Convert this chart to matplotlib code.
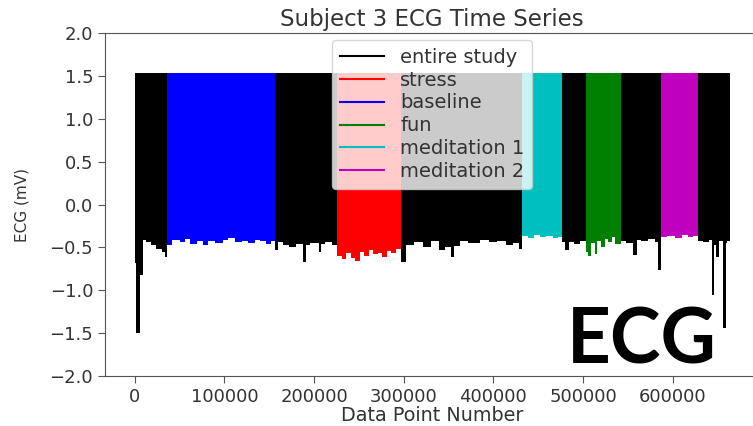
import matplotlib
matplotlib.use("Agg")
import matplotlib.pyplot as plt
from matplotlib.lines import Line2D
import numpy as np

# ---- data (lower envelope of the dense ECG trace, upper clip level) ----
top_level = 1.53

entire_x = [0, 2000, 5500, 9500, 13000, 18000, 24000, 31000, 33500, 36000,
            157000, 160000, 165000, 172000, 180000, 188000, 191500, 196000, 205000,
            208000, 212000, 220000, 226000,
            296500, 302000, 311000, 322000, 330000, 339000, 346000, 353000, 356000,
            363000, 372000, 385000, 395000, 404000, 414000, 422000, 428000, 432000,
            476000, 480000, 484000, 490000, 496000, 503000,
            542000, 548000, 556000, 560000, 564000, 572000, 580000, 583500, 587000,
            628000, 634000, 640000, 643200, 645700, 648700, 651000, 656000, 659000,
            660200, 663500]
entire_low = [-0.68, -1.50, -0.82, -0.41, -0.44, -0.47, -0.52, -0.55, -0.61, -0.30,
              -0.53, -0.44, -0.47, -0.49, -0.46, -0.67, -0.47, -0.45, -0.55,
              -0.46, -0.44, -0.47, -0.30,
              -0.67, -0.47, -0.44, -0.49, -0.43, -0.53, -0.50, -0.61, -0.48,
              -0.43, -0.45, -0.41, -0.44, -0.43, -0.47, -0.45, -0.52, -0.30,
              -0.44, -0.53, -0.44, -0.46, -0.43, -0.30,
              -0.42, -0.45, -0.59, -0.41, -0.43, -0.40, -0.44, -0.76, -0.30,
              -0.42, -0.44, -0.41, -1.06, -0.47, -0.61, -0.43, -1.44, -0.45,
              -0.42, -0.42]

stress_x = [226000, 231000, 236000, 241000, 246000, 251000, 256000, 261000, 266000,
            271000, 276000, 281000, 286000, 291000, 296500]
stress_low = [-0.60, -0.64, -0.57, -0.62, -0.66, -0.55, -0.60, -0.53, -0.58,
              -0.56, -0.61, -0.54, -0.57, -0.52, -0.52]

baseline_x = [36000, 42000, 50000, 56000, 62000, 70000, 76000, 82000, 90000, 98000,
              104000, 112000, 120000, 126000, 134000, 140000, 146000, 152000, 157000]
baseline_low = [-0.47, -0.41, -0.44, -0.40, -0.46, -0.43, -0.47, -0.42, -0.45, -0.41,
                -0.39, -0.44, -0.42, -0.45, -0.41, -0.43, -0.46, -0.43, -0.43]

fun_x = [503000, 506000, 509000, 513000, 516000, 520000, 524000, 528000, 532000,
         536000, 542000]
fun_low = [-0.55, -0.60, -0.45, -0.58, -0.42, -0.50, -0.40, -0.44, -0.38, -0.46, -0.46]

med1_x = [432000, 438000, 445000, 452000, 459000, 466000, 472000, 476000]
med1_low = [-0.37, -0.39, -0.36, -0.38, -0.37, -0.39, -0.38, -0.38]

med2_x = [587000, 594000, 602000, 610000, 617000, 623000, 628000]
med2_low = [-0.38, -0.37, -0.39, -0.36, -0.38, -0.37, -0.37]

series = [
    ("entire study", entire_x, entire_low, "k"),
    ("stress", stress_x, stress_low, "r"),
    ("baseline", baseline_x, baseline_low, "b"),
    ("fun", fun_x, fun_low, "g"),
    ("meditation 1", med1_x, med1_low, "c"),
    ("meditation 2", med2_x, med2_low, "m"),
]

x_ticks = [0, 100000, 200000, 300000, 400000, 500000, 600000]
y_ticks = [-2.0, -1.5, -1.0, -0.5, 0.0, 0.5, 1.0, 1.5, 2.0]

# ---- figure ----
fig = plt.figure(figsize=(7.53, 4.26), dpi=100)
ax = fig.add_axes([0.1394, 0.1174, 0.8686, 0.805])

handles = []
for label, xs, lows, col in series:
    xs = np.asarray(xs, dtype=float)
    lows = np.asarray(lows, dtype=float)
    ax.fill_between(xs, lows, top_level, step="post", color=col, linewidth=0)
    handles.append(Line2D([0], [0], color=col, lw=1.5, label=label))

ax.set_xlim(-33150, 696150)
ax.set_ylim(-2.0, 2.0)
ax.set_xticks(x_ticks)
ax.set_xticklabels([str(t) for t in x_ticks])
ax.set_yticks(y_ticks)
ax.tick_params(labelsize=13, colors="#555555", labelcolor="#333333", length=5)
for sp in ax.spines.values():
    sp.set_color("#555555")

ax.set_title("Subject 3 ECG Time Series", fontsize=16.5, color="#333333", pad=5)
ax.set_xlabel("Data Point Number", fontsize=13.8, color="#333333", labelpad=0)
ax.set_ylabel("ECG (mV)", fontsize=11, color="#333333", labelpad=14)

ax.legend(handles=handles, loc="upper center", fontsize=14, labelcolor="#333333",
          labelspacing=0.2, handlelength=2.3, borderaxespad=0.35,
          bbox_to_anchor=(0.5, 1.0))

fig.text(567 / 753, 1 - 364 / 426, "ECG", fontsize=55, fontweight="bold",
         family=["Lato", "DejaVu Sans"], color="black", ha="left", va="baseline")

fig.savefig("out.png", dpi=100)
